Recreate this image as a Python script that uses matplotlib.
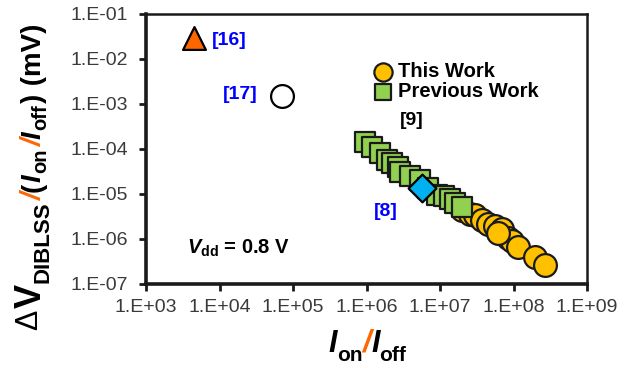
import matplotlib
matplotlib.use("Agg")
import matplotlib.pyplot as plt
from matplotlib.transforms import IdentityTransform

plt.rcParams['font.family'] = 'Liberation Sans'
plt.rcParams['mathtext.fontset'] = 'custom'
plt.rcParams['mathtext.rm'] = 'Liberation Sans:bold'
plt.rcParams['mathtext.bf'] = 'Liberation Sans:bold'
plt.rcParams['mathtext.it'] = 'Liberation Sans:bold:italic'

# this work: Ion/Ioff vs DIBLSS/(Ion/Ioff)
this_x = [1.99e7, 2.56e7, 2.99e7, 3.72e7, 4.5e7, 5.6e7, 6.98e7,
          8.4e7, 9.55e7, 1.15e8, 1.96e8, 2.69e8, 6.15e7]
this_y = [4.4e-6, 3.6e-6, 3.4e-6, 2.64e-6, 2.15e-6, 1.95e-6, 1.67e-6,
          1.05e-6, 9.0e-7, 6.6e-7, 4.0e-7, 2.64e-7, 1.36e-6]

# previous work [9]
prev_x = [9.55e5, 1.19e6, 1.53e6, 1.90e6, 2.22e6, 2.68e6, 2.86e6, 3.91e6,
          5.35e6, 6.87e6, 9.10e6, 1.13e7, 1.37e7, 1.60e7, 1.99e7]
prev_y = [1.43e-4, 1.11e-4, 8.1e-5, 5.7e-5, 4.9e-5, 4.0e-5, 3.1e-5, 2.5e-5,
          2.05e-5, 1.36e-5, 9.5e-6, 9.0e-6, 7.7e-6, 6.3e-6, 5.1e-6]

# single published points
ref8_x, ref8_y = [5.6e6], [1.34e-5]
ref16_x, ref16_y = [4.5e3], [2.86e-2]
ref17_x, ref17_y = [7.1e4], [1.5e-3]

xticks = [1e3, 1e4, 1e5, 1e6, 1e7, 1e8, 1e9]
xtick_labels = ['1.E+03', '1.E+04', '1.E+05', '1.E+06', '1.E+07', '1.E+08', '1.E+09']
yticks = [1e-7, 1e-6, 1e-5, 1e-4, 1e-3, 1e-2, 1e-1]
ytick_labels = ['1.E-07', '1.E-06', '1.E-05', '1.E-04', '1.E-03', '1.E-02', '1.E-01']

YELLOW = '#FFC000'
GREEN = '#92D050'
CYAN = '#00B0F0'
ORANGE = '#FF6600'
EDGE = '#1a1a1a'
REFBLUE = '#0000FF'

fig = plt.figure(figsize=(6.34, 3.68), dpi=100)
fig.set_facecolor('white')
ax = fig.add_axes([0.2303, 0.2283, 0.6956, 0.7337])

ax.set_xscale('log')
ax.set_yscale('log')
ax.set_xlim(1e3, 1e9)
ax.set_ylim(1e-7, 1e-1)

h_this = ax.scatter(this_x, this_y, s=270, marker='o', facecolor=YELLOW,
                    edgecolor=EDGE, linewidths=1.6, zorder=3)
h_prev = ax.scatter(prev_x, prev_y, s=210, marker='s', facecolor=GREEN,
                    edgecolor=EDGE, linewidths=1.6, zorder=4)
ax.scatter(ref8_x, ref8_y, s=200, marker='D', facecolor=CYAN,
           edgecolor='black', linewidths=1.6, zorder=5)
ax.scatter(ref16_x, ref16_y, s=270, marker='^', facecolor=ORANGE,
           edgecolor='black', linewidths=1.6, zorder=5)
ax.scatter(ref17_x, ref17_y, s=270, marker='o', facecolor='white',
           edgecolor='black', linewidths=1.6, zorder=5)

ax.set_xticks(xticks)
ax.set_xticklabels(xtick_labels)
ax.set_yticks(yticks)
ax.set_yticklabels(ytick_labels)
ax.minorticks_off()
ax.tick_params(axis='both', direction='out', length=5, width=2, color=EDGE,
               labelsize=14, labelcolor='#3a3a3a')
ax.tick_params(axis='y', pad=8)
ax.tick_params(axis='x', pad=6)

for side in ['left', 'bottom']:
    ax.spines[side].set_linewidth(2.6)
for side in ['top', 'right']:
    ax.spines[side].set_linewidth(1.8)
for sp in ax.spines.values():
    sp.set_color(EDGE)

ax.legend([h_this, h_prev], ['This Work', 'Previous Work'],
          loc='upper left', bbox_to_anchor=(0.515, 0.822), frameon=False,
          prop={'weight': 'bold', 'size': 14.5}, handletextpad=0.25,
          labelspacing=0.05, borderpad=0, borderaxespad=0, handlelength=1.0,
          markerscale=0.8, scatterpoints=1)

ref_font = {'fontsize': 14, 'fontweight': 'bold'}
ax.text(0.150, 0.900, '[16]', color=REFBLUE, ha='left', va='center',
        transform=ax.transAxes, **ref_font)
ax.text(0.254, 0.700, '[17]', color=REFBLUE, ha='right', va='center',
        transform=ax.transAxes, **ref_font)
ax.text(0.544, 0.270, '[8]', color=REFBLUE, ha='center', va='center',
        transform=ax.transAxes, **ref_font)
ax.text(0.576, 0.604, '[9]', color='black', ha='left', va='center',
        transform=ax.transAxes, **ref_font)
ax.text(0.093, 0.133, r'$V_{\mathrm{dd}}$ = 0.8 V', ha='left', va='center',
        fontsize=14.5, fontweight='bold', transform=ax.transAxes)


def chain_text(pieces, cx, cy, rotation=0, gap=0):
    """Lay out differently styled text pieces one after another, centred on
    (cx, cy) in pixels; shift moves a piece below the baseline."""
    renderer = fig.canvas.get_renderer()
    texts, advances = [], []
    for s, size, color, weight, style, shift in pieces:
        t = fig.text(0, 0, s, transform=IdentityTransform(), rotation=rotation,
                     rotation_mode='anchor', ha='left', va='baseline',
                     fontsize=size, color=color, fontweight=weight,
                     fontstyle=style)
        ext = t.get_window_extent(renderer)
        texts.append(t)
        advances.append((ext.width if rotation == 0 else ext.height) + gap)
    total = sum(advances) - gap
    pos = -total / 2
    for t, adv, p in zip(texts, advances, pieces):
        shift = p[5]
        if rotation == 0:
            t.set_position((cx + pos, cy - shift))
        else:
            t.set_position((cx + shift, cy + pos))
        pos += adv


K = 'black'
ylabel_pieces = [
    ('Δ', 22, K, 'normal', 'normal', -4),
    ('V', 26, K, 'bold', 'normal', 0),
    ('DIBLSS', 16, K, 'bold', 'normal', 7),
    ('/', 20, ORANGE, 'bold', 'italic', 0),
    ('(', 20, K, 'bold', 'normal', 0),
    ('I', 20, K, 'bold', 'italic', 0),
    ('on', 14.5, K, 'bold', 'normal', 5),
    ('/', 20, ORANGE, 'bold', 'italic', 0),
    ('I', 20, K, 'bold', 'italic', 0),
    ('off', 14.5, K, 'bold', 'normal', 5),
    (')', 20, K, 'bold', 'normal', 0),
    (' (mV)', 20, K, 'bold', 'normal', 0),
]
chain_text(ylabel_pieces, 41, 368 - 176.5, rotation=90, gap=1)

xlabel_pieces = [
    ('I', 22, K, 'bold', 'italic', 0),
    ('on', 15, K, 'bold', 'normal', 9),
    ('/', 22, ORANGE, 'bold', 'italic', 0),
    ('I', 22, K, 'bold', 'italic', 0),
    ('off', 15, K, 'bold', 'normal', 9),
]
chain_text(xlabel_pieces, 367.5, 368 - 352, rotation=0)

fig.savefig('out.png', dpi=100)
